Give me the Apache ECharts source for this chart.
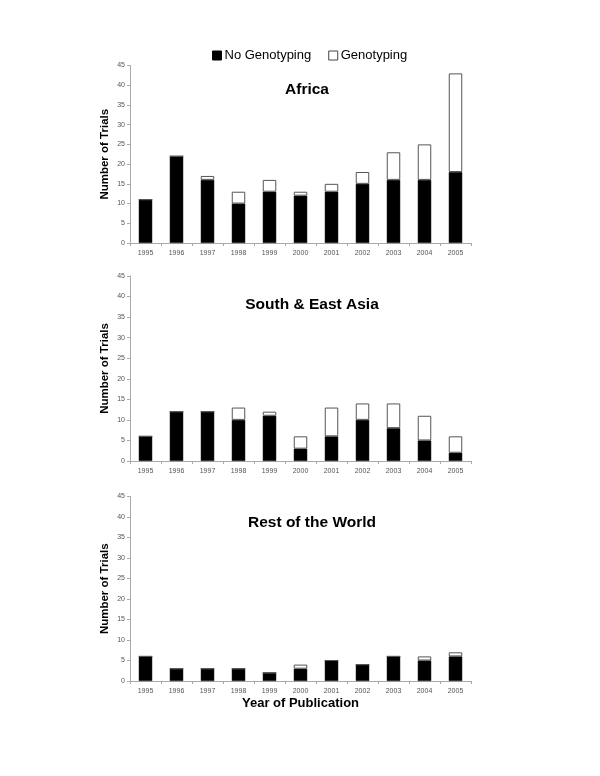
<!DOCTYPE html>
<html><head><meta charset="utf-8">
<script src="https://cdn.jsdelivr.net/npm/echarts@6/dist/echarts.min.js"></script>
<style>html,body{margin:0;padding:0;background:#fff}#c{width:600px;height:776px}</style>
</head><body><div id="c"></div>
<script>
const years = ['1995','1996','1997','1998','1999','2000','2001','2002','2003','2004','2005'];
const yTicks = {min:0, max:45, interval:5};
const panelTitles = ['Africa','South & East Asia','Rest of the World'];
const africaNoGeno = [11,22,16,10,13,12,13,15,16,16,18];
const africaGeno   = [0,0,1,3,3,1,2,3,7,9,25];
const asiaNoGeno   = [6,12,12,10,11,3,6,10,8,5,2];
const asiaGeno     = [0,0,0,3,1,3,7,4,6,6,4];
const restNoGeno   = [6,3,3,3,2,3,5,4,6,5,6];
const restGeno     = [0,0,0,0,0,1,0,0,0,1,1];

const panels = [
  {no: africaNoGeno, ge: africaGeno, grid:{left:130, top:65.5, width:341, height:177.5}, tx:302, ty:77},
  {no: asiaNoGeno, ge: asiaGeno, grid:{left:130, top:276, width:341, height:185}, tx:307, ty:292},
  {no: restNoGeno, ge: restGeno, grid:{left:130, top:496.5, width:341, height:184.5}, tx:307, ty:510}
];
const font = 'Liberation Sans, Arial, sans-serif';
const chart = echarts.init(document.getElementById('c'));
const opt = {
  animation:false,
  backgroundColor:'#fff',
  textStyle:{fontFamily:font},
  legend:{
    top:44, left:207, itemWidth:9, itemHeight:9, itemGap:17, icon:'rect',
    textStyle:{fontSize:13, color:'#000', fontFamily:font, padding:[0,0,0,-2]},
    data:[{name:'No Genotyping', itemStyle:{color:'#000', borderColor:'#000', borderWidth:1}},
          {name:'Genotyping', itemStyle:{color:'#fff', borderColor:'#444', borderWidth:1}}]
  },
  title: panels.map((p,i)=>({text:panelTitles[i], left:p.tx, top:p.ty, textAlign:'center',
    textStyle:{fontSize:15.5, fontWeight:'bold', color:'#000', fontFamily:font}})),
  grid: panels.map(p=>p.grid),
  xAxis: panels.map((p,i)=>({
    type:'category', gridIndex:i, data:years,
    axisLine:{lineStyle:{color:'#aaa', width:1}},
    axisTick:{show:true, length:3, lineStyle:{color:'#aaa'}},
    axisLabel:{fontSize:7, color:'#555', margin:7, fontFamily:font},
    name: i===2 ? 'Year of Publication' : '',
    nameLocation:'middle', nameGap:16, nameMoveOverlap:false,
    nameTextStyle:{fontSize:13, fontWeight:'bold', color:'#000', fontFamily:font}
  })),
  yAxis: panels.map((p,i)=>({
    type:'value', gridIndex:i, min:yTicks.min, max:yTicks.max, interval:yTicks.interval,
    splitLine:{show:false},
    axisLine:{show:true, lineStyle:{color:'#aaa', width:1}},
    axisTick:{show:true, length:3, lineStyle:{color:'#aaa'}},
    axisLabel:{fontSize:7, color:'#555', margin:5, fontFamily:font},
    name:'Number of Trials', nameLocation:'middle', nameGap:19, nameMoveOverlap:false,
    nameTextStyle:{fontSize:11.5, fontWeight:'bold', color:'#000', fontFamily:font}
  })),
  series: []
};
panels.forEach((p,i)=>{
  opt.series.push({name:'No Genotyping', type:'bar', stack:'s'+i, xAxisIndex:i, yAxisIndex:i,
    data:p.no, barWidth:13.5, itemStyle:{color:'#000', borderColor:'#222', borderWidth:0.5}});
  opt.series.push({name:'Genotyping', type:'bar', stack:'s'+i, xAxisIndex:i, yAxisIndex:i,
    data:p.ge, barWidth:13.5, itemStyle:{color:'#fff', borderColor:'#555', borderWidth:1}});
});
chart.setOption(opt);
</script></body></html>
